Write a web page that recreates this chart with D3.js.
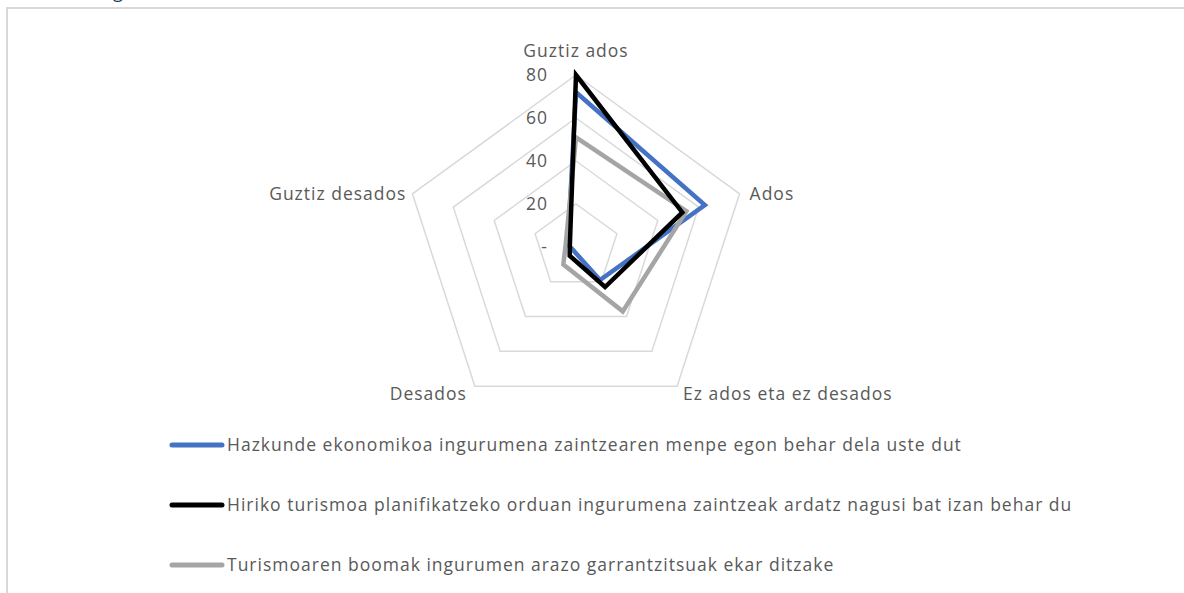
<!DOCTYPE html>
<html>
<head>
<meta charset="utf-8">
<script src="https://cdn.jsdelivr.net/npm/d3@7"></script>
<style>
  html, body { margin: 0; padding: 0; background: #fff; }
  svg { display: block; }
</style>
</head>
<body>
<div id="chart"></div>
<script>
'use strict';

var axes = ["Guztiz ados", "Ados", "Ez ados eta ez desados", "Desados", "Guztiz desados"];
var seriesNames = [
	"Hazkunde ekonomikoa ingurumena zaintzearen menpe egon behar dela uste dut",
	"Hiriko turismoa planifikatzeko orduan ingurumena zaintzeak ardatz nagusi bat izan behar du",
	"Turismoaren boomak ingurumen arazo garrantzitsuak ekar ditzake"
];
var blueValues = [72, 63, 19, 2, 4];
var blackValues = [80, 52, 23, 5, 3];
var grayValues = [51, 54, 37, 10, 5];
var ticks = [0, 20, 40, 60, 80];
var tickLabels = ["-", "20", "40", "60", "80"];
var seriesColors = ["#4472c4", "#000000", "#a5a5a5"];

var width = 1184, height = 593;
var cx = 576, cy = 247, radius = 172;
var fontFamily = "'Open Sans', Lato, sans-serif";
var fontSize = 17.5;
var spacing = 1;
var textColor = "#595959";

var svg = d3.select("#chart").append("svg")
	.attr("width", width)
	.attr("height", height)
	.attr("font-family", fontFamily);

// cut-off title descender peeking in at the top
svg.append("text")
	.attr("x", 113).attr("y", -2)
	.attr("font-size", 18)
	.attr("fill", "#1f3864")
	.text("g");

// chart frame
svg.append("path")
	.attr("d", "M7,593 L7,8 L1184,8")
	.attr("fill", "none")
	.attr("stroke", "#d9d9d9")
	.attr("stroke-width", 2);

var r = d3.scaleLinear().domain([0, 80]).range([0, radius]);
var angle = d3.scaleLinear().domain([0, axes.length]).range([0, 2 * Math.PI]);

function pt(i, v) {
	var a = angle(i);
	return [cx + Math.sin(a) * r(v), cy - Math.cos(a) * r(v)];
}

var g = svg.append("g");

// grid pentagons
g.selectAll("path.grid")
	.data(ticks.filter(function(t) { return t > 0; }))
	.enter().append("path")
	.attr("class", "grid")
	.attr("d", function(t) {
		return d3.line()(axes.map(function(a, i) { return pt(i, t); })) + "Z";
	})
	.attr("fill", "none")
	.attr("stroke", "#d9d9d9")
	.attr("stroke-width", 1.5);

// tick labels
g.selectAll("text.tick")
	.data(ticks)
	.enter().append("text")
	.attr("class", "tick")
	.attr("x", cx - 28)
	.attr("y", function(t) { return cy - r(t); })
	.attr("dy", "0.35em")
	.attr("text-anchor", "end")
	.attr("font-size", fontSize)
	.attr("letter-spacing", spacing)
	.attr("fill", textColor)
	.text(function(t, i) { return tickLabels[i]; });

// axis labels
var labelPos = [
	{ dx: 0, dy: -24, anchor: "middle" },
	{ dx: 10, dy: 0, anchor: "start" },
	{ dx: 6, dy: 8, anchor: "start" },
	{ dx: -8, dy: 8, anchor: "end" },
	{ dx: -6, dy: 0, anchor: "end" }
];
g.selectAll("text.axis")
	.data(axes)
	.enter().append("text")
	.attr("class", "axis")
	.attr("x", function(d, i) { return pt(i, 80)[0] + labelPos[i].dx; })
	.attr("y", function(d, i) { return pt(i, 80)[1] + labelPos[i].dy; })
	.attr("dy", "0.35em")
	.attr("text-anchor", function(d, i) { return labelPos[i].anchor; })
	.attr("font-size", fontSize)
	.attr("letter-spacing", spacing)
	.attr("fill", textColor)
	.text(function(d) { return d; });

// series
var allSeries = [blueValues, blackValues, grayValues];
var order = [0, 2, 1];
g.selectAll("path.series")
	.data(order)
	.enter().append("path")
	.attr("class", "series")
	.attr("d", function(s) {
		return d3.line()(allSeries[s].map(function(v, i) { return pt(i, v); })) + "Z";
	})
	.attr("fill", "none")
	.attr("stroke", function(s) { return seriesColors[s]; })
	.attr("stroke-width", 4.5)
	.attr("stroke-linejoin", "miter");

// legend
var legend = svg.append("g");
var items = legend.selectAll("g.item")
	.data(seriesNames)
	.enter().append("g")
	.attr("class", "item")
	.attr("transform", function(d, i) { return "translate(172," + (445 + i * 60) + ")"; });
items.append("line")
	.attr("x1", 0).attr("x2", 50)
	.attr("stroke", function(d, i) { return seriesColors[i]; })
	.attr("stroke-width", 5)
	.attr("stroke-linecap", "round");
items.append("text")
	.attr("x", 55)
	.attr("dy", "0.35em")
	.attr("font-size", fontSize)
	.attr("letter-spacing", spacing)
	.attr("fill", textColor)
	.text(function(d) { return d; });
</script>
</body>
</html>
